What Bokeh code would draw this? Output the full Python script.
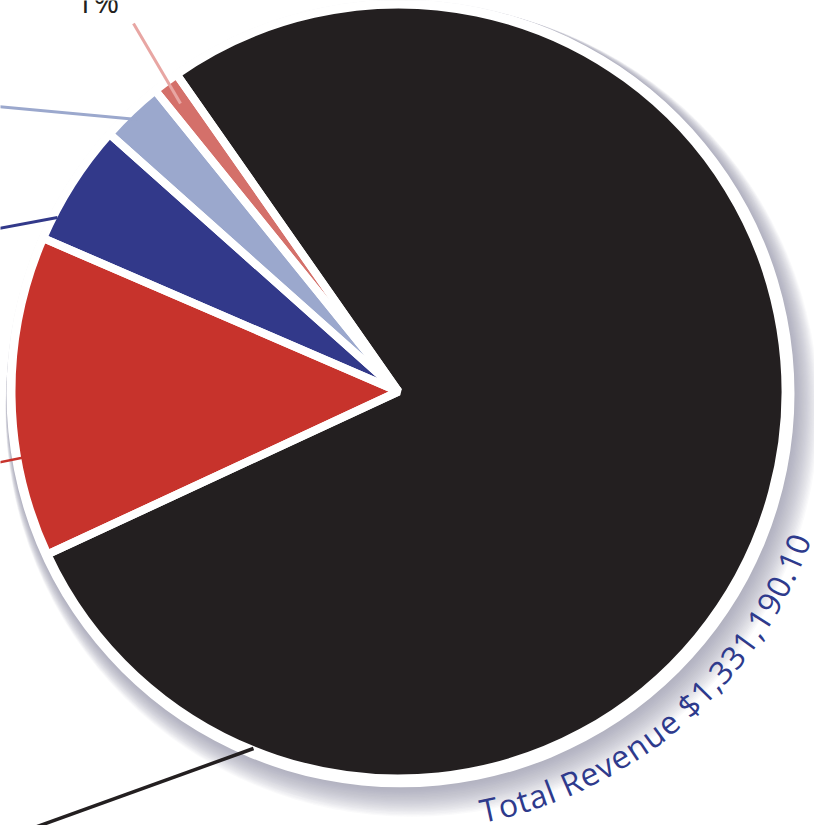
import math
from bokeh.plotting import figure
from bokeh.models import Range1d, ColumnDataSource
from bokeh.core.properties import value
from bokeh.embed import file_html
from bokeh.resources import INLINE

# ---------------- data ----------------
# slices listed anticlockwise, starting with the large black one
categories = ["Category 1", "Category 2", "Category 3", "Category 4", "Category 5"]
shares = [77.8, 1.1, 2.6, 5.1, 13.4]
colors = ["#231f20", "#d4706a", "#9ba8cd", "#32398a", "#c7332c"]
small_label = "1%"
total_label = "Total Revenue $1,331,190.10"

# ---------------- layout ----------------
W, H = 814, 825
def sy(y):  # screen-y (down) to data-y (up)
    return H - y

CX, CY = 398, sy(391)
R = 387
START_DEG = -155.1

p = figure(width=W, height=H, x_range=Range1d(0, W), y_range=Range1d(0, H),
           output_backend="svg", toolbar_location=None, min_border=0,
           background_fill_color="white", border_fill_color="white")
p.axis.visible = False
p.grid.visible = False
p.outline_line_color = None

# drop shadow (stacked translucent discs drifting down-right)
n_sh = 22
sh_x = [CX + 2 + 0.55 * k for k in range(n_sh)]
sh_y = [CY - 2 - 0.8 * k for k in range(n_sh)]
sh_r = [394 + 0.6 * k for k in range(n_sh)]
p.circle(x=sh_x, y=sh_y, radius=sh_r,
         fill_color="#8a90a6", fill_alpha=0.045, line_color=None)
# white rim
p.circle(x=[CX + 2], y=[CY - 2], radius=[394], fill_color="white", line_color=None)

# wedges
total = sum(shares)
starts, ends = [], []
acc = 0.0
for s in shares:
    a0 = math.radians(START_DEG) + acc / total * 2 * math.pi
    acc += s
    a1 = math.radians(START_DEG) + acc / total * 2 * math.pi
    starts.append(a0)
    ends.append(a1)
src = ColumnDataSource(dict(cat=categories, share=shares, color=colors,
                            start=starts, end=ends))
p.wedge(x=CX, y=CY, radius=R, start_angle="start", end_angle="end",
        direction="anticlock", fill_color="color", line_alpha=0, source=src)
p.wedge(x=CX, y=CY, radius=R, start_angle="start", end_angle="end",
        direction="anticlock", fill_alpha=0, line_color="white", line_width=8,
        source=src)

# leader lines (screen coordinates of the annotation layout)
leaders = [
    ((180, 103), (133, 23), "#e8a6a3", 3),
    ((137, 119), (-2, 106), "#9ba8cd", 3),
    ((57, 217), (-2, 228), "#32398a", 3),
    ((23, 457), (-2, 462), "#c7332c", 2.5),
    ((253, 748), (-2, 840), "#231f20", 3.5),
]
for (x0, y0), (x1, y1), c, w in leaders:
    p.line(x=[x0, x1], y=[sy(y0), sy(y1)], line_color=c, line_width=w)

# "1%" label (cut by the top edge)
p.text(x=[97], y=[sy(0)], text=[small_label], text_align="center",
       text_baseline="middle", text_font=value("Open Sans"),
       text_font_size="31px", text_color="#231f20")

# curved total label
adv = {" ": 0.26, "T": 0.558, "o": 0.604, "t": 0.353, "a": 0.556, "l": 0.253,
       "R": 0.602, "e": 0.561, "v": 0.504, "n": 0.614, "u": 0.614, "$": 0.572,
       ",": 0.245, ".": 0.266}
centers = []
acc = 0.0
for ch in total_label:
    w = adv.get(ch, 0.572)
    centers.append(acc + w / 2)
    acc += w
TH0, TH1 = math.radians(-77.8), math.radians(-20.9)
RB = 427
xs, ys, angs, chars = [], [], [], []
for ch, c in zip(total_label, centers):
    th = TH0 + (c - centers[0]) / (centers[-1] - centers[0]) * (TH1 - TH0)
    xs.append(CX + RB * math.cos(th))
    ys.append(CY + RB * math.sin(th))
    angs.append(th + math.pi / 2)
    chars.append(ch)
p.text(x=xs, y=ys, text=chars, angle=angs, text_align="center",
       text_baseline="middle", text_font=value("Open Sans"),
       text_font_size="32px", text_color="#2e3a8c")

open("out.html", "w").write(file_html(p, INLINE))
